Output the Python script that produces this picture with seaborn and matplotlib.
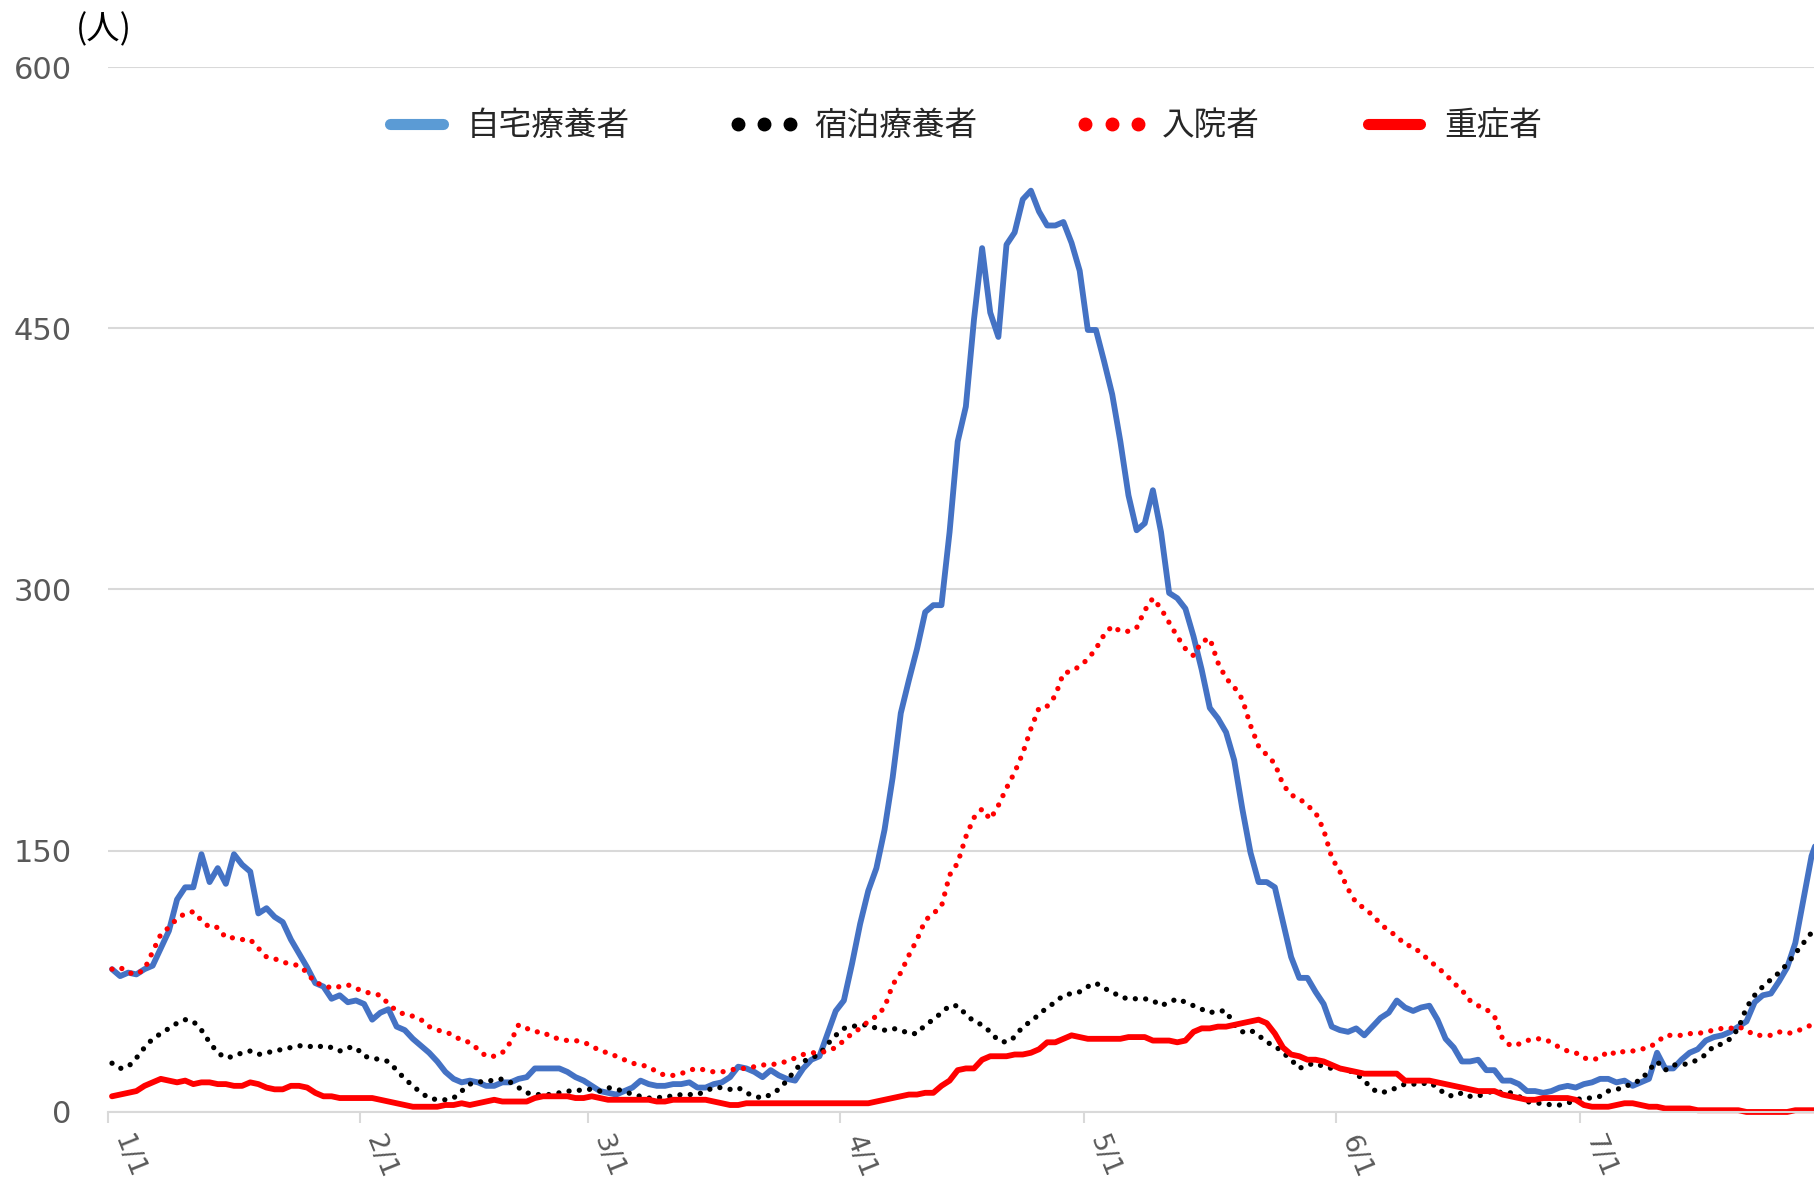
import numpy as np
import seaborn as sns
import matplotlib
matplotlib.use("Agg")
import matplotlib.pyplot as plt
from matplotlib.lines import Line2D

# daily values, 1/1 .. 7/30 (one value per day)
jitaku = [82, 78, 80, 79, 82, 84, 94, 104, 122, 129,
          129, 148, 132, 140, 131, 148, 142, 138, 114, 117,
          112, 109, 99, 91, 83, 74, 72, 65, 67, 63,
          64, 62, 53, 57, 59, 49, 47, 42, 38, 34,
          29, 23, 19, 17, 18, 17, 15, 15, 17, 17,
          19, 20, 25, 25, 25, 25, 23, 20, 18, 15,
          12, 11, 10, 12, 14, 18, 16, 15, 15, 16,
          16, 17, 14, 14, 16, 17, 20, 26, 25, 23,
          20, 24, 21, 19, 18, 25, 30, 32, 45, 58,
          64, 85, 108, 127, 140, 162, 192, 229, 248, 266,
          287, 291, 291, 333, 385, 405, 455, 496, 459, 445,
          498, 505, 524, 529, 517, 509, 509, 511, 499, 483,
          449, 449, 431, 412, 385, 354, 334, 338, 357, 333,
          298, 295, 289, 273, 254, 232, 226, 218, 202, 174,
          149, 132, 132, 129, 109, 89, 77, 77, 69, 62,
          49, 47, 46, 48, 44, 49, 54, 57, 64, 60,
          58, 60, 61, 53, 42, 37, 29, 29, 30, 24,
          24, 18, 18, 16, 12, 12, 11, 12, 14, 15,
          14, 16, 17, 19, 19, 17, 18, 15, 17, 19,
          34, 25, 25, 30, 34, 36, 41, 43, 44, 46,
          49, 52, 63, 67, 68, 75, 83, 97, 122, 147,
          160]

shukuhaku = [28, 25, 26, 31, 37, 42, 45, 48, 51, 53,
             52, 47, 40, 34, 31, 32, 34, 35, 33, 34,
             35, 36, 37, 38, 38, 37, 38, 37, 35, 37,
             37, 32, 31, 30, 29, 24, 19, 15, 11, 8,
             7, 7, 8, 12, 16, 17, 18, 18, 19, 17,
             14, 11, 10, 10, 10, 11, 12, 12, 13, 13,
             12, 14, 13, 12, 10, 9, 8, 8, 9, 9,
             10, 10, 10, 12, 14, 14, 13, 14, 11, 9,
             8, 10, 13, 18, 24, 29, 31, 33, 39, 44,
             48, 49, 50, 50, 48, 47, 48, 47, 45, 45,
             50, 53, 57, 61, 61, 56, 52, 50, 46, 41,
             40, 43, 49, 52, 56, 60, 63, 67, 68, 69,
             72, 74, 71, 69, 66, 65, 65, 65, 64, 61,
             63, 65, 63, 61, 59, 57, 58, 58, 50, 46,
             47, 44, 40, 38, 34, 30, 25, 27, 28, 26,
             25, 25, 24, 22, 18, 13, 11, 12, 14, 16,
             16, 16, 17, 14, 10, 9, 11, 9, 9, 11,
             12, 11, 11, 9, 6, 5, 5, 4, 4, 5,
             7, 8, 8, 9, 12, 13, 14, 17, 18, 24,
             29, 24, 27, 27, 28, 30, 33, 38, 39, 42,
             48, 60, 67, 72, 76, 80, 85, 91, 97, 103,
             108]

nyuin = [82, 83, 80, 79, 82, 92, 102, 106, 111, 114,
         115, 110, 106, 106, 100, 100, 99, 99, 94, 89,
         88, 86, 85, 84, 80, 74, 73, 71, 72, 73,
         71, 69, 68, 67, 62, 58, 56, 55, 53, 49,
         47, 46, 44, 41, 40, 36, 32, 32, 34, 40,
         50, 48, 46, 46, 43, 42, 41, 41, 40, 38,
         35, 34, 32, 30, 28, 27, 26, 23, 21, 21,
         22, 24, 25, 24, 23, 23, 24, 25, 25, 26,
         27, 27, 28, 29, 31, 33, 34, 34, 35, 37,
         41, 45, 48, 52, 55, 60, 73, 80, 90, 99,
         110, 114, 118, 136, 143, 158, 169, 174, 168, 176,
         186, 195, 206, 220, 232, 233, 239, 252, 253, 256,
         260, 266, 274, 279, 276, 276, 278, 288, 295, 289,
         281, 273, 266, 262, 270, 272, 258, 249, 244, 237,
         222, 210, 205, 200, 188, 182, 180, 176, 172, 162,
         146, 138, 128, 120, 117, 113, 108, 104, 101, 96,
         95, 91, 87, 83, 79, 74, 70, 64, 61, 59,
         55, 42, 38, 39, 41, 42, 42, 40, 37, 35,
         34, 31, 30, 31, 35, 33, 35, 35, 36, 37,
         40, 44, 44, 44, 45, 45, 46, 47, 48, 48,
         49, 47, 44, 44, 44, 46, 45, 46, 48, 50,
         51]

jusho = [9, 10, 11, 12, 15, 17, 19, 18, 17, 18,
         16, 17, 17, 16, 16, 15, 15, 17, 16, 14,
         13, 13, 15, 15, 14, 11, 9, 9, 8, 8,
         8, 8, 8, 7, 6, 5, 4, 3, 3, 3,
         3, 4, 4, 5, 4, 5, 6, 7, 6, 6,
         6, 6, 8, 9, 9, 9, 9, 8, 8, 9,
         8, 7, 7, 7, 7, 7, 7, 6, 6, 7,
         7, 7, 7, 7, 6, 5, 4, 4, 5, 5,
         5, 5, 5, 5, 5, 5, 5, 5, 5, 5,
         5, 5, 5, 5, 6, 7, 8, 9, 10, 10,
         11, 11, 15, 18, 24, 25, 25, 30, 32, 32,
         32, 33, 33, 34, 36, 40, 40, 42, 44, 43,
         42, 42, 42, 42, 42, 43, 43, 43, 41, 41,
         41, 40, 41, 46, 48, 48, 49, 49, 50, 51,
         52, 53, 51, 45, 37, 33, 32, 30, 30, 29,
         27, 25, 24, 23, 22, 22, 22, 22, 22, 18,
         18, 18, 18, 17, 16, 15, 14, 13, 12, 12,
         12, 10, 9, 8, 7, 7, 8, 8, 8, 8,
         7, 4, 3, 3, 3, 4, 5, 5, 4, 3,
         3, 2, 2, 2, 2, 1, 1, 1, 1, 1,
         1, 0, 0, 0, 0, 0, 0, 1, 1, 1,
         1]

series_names = ["自宅療養者", "宿泊療養者", "入院者", "重症者"]
month_labels = ["1/1", "2/1", "3/1", "4/1", "5/1", "6/1", "7/1"]
month_start = [0, 31, 59, 90, 120, 151, 181]
y_ticks = [0, 150, 300, 450, 600]

sns.set_style("white")
plt.rcParams['font.family'] = ['Noto Sans CJK JP', 'DejaVu Sans']

days = np.arange(len(jitaku))

fig = plt.figure(figsize=(18.14, 11.88), dpi=100)
ax = fig.add_axes([0.0595, 0.064, 0.9405, 0.8796])

dot = (0, (0.01, 1.95))
sns.lineplot(x=days, y=jitaku, ax=ax, color="#4472C4", linewidth=4.2, clip_on=False)
sns.lineplot(x=days, y=shukuhaku, ax=ax, color="black", linewidth=3.8,
             linestyle=dot, dash_capstyle="round", clip_on=False)
sns.lineplot(x=days, y=nyuin, ax=ax, color="#FF0000", linewidth=3.8,
             linestyle=dot, dash_capstyle="round", clip_on=False)
sns.lineplot(x=days, y=jusho, ax=ax, color="#FF0000", linewidth=4.2, clip_on=False)

ax.set_xlim(-0.5, 209.3)
ax.set_ylim(0, 600)

ax.set_yticks(y_ticks)
ax.set_yticklabels([str(v) for v in y_ticks], family="DejaVu Sans")
ax.tick_params(axis="y", length=0, pad=26, labelsize=22, labelcolor="#595959")
ax.yaxis.grid(True, color="#D9D9D9", linewidth=1.5)
ax.set_axisbelow(True)

ax.set_xticks([m - 0.5 for m in month_start])
ax.set_xticklabels(month_labels, rotation=-68, ha="left", va="top", family="DejaVu Sans")
ax.tick_params(axis="x", direction="out", length=8, width=1.5, color="#D9D9D9",
               pad=6, labelsize=19.5, labelcolor="#595959", bottom=True)

for s in ["top", "right", "left"]:
    ax.spines[s].set_visible(False)
ax.spines["bottom"].set_color("#D9D9D9")
ax.spines["bottom"].set_linewidth(1.5)
ax.set_xlabel("")
ax.set_ylabel("")

fig.text(0.057, 0.975, "(人)", ha="center", va="center", fontsize=24, color="black")

handles = [
    Line2D([], [], color="#5B9BD5", linewidth=8, solid_capstyle="round"),
    Line2D([], [], color="black", linestyle="none", marker="o", markersize=9),
    Line2D([], [], color="#FF0000", linestyle="none", marker="o", markersize=9),
    Line2D([], [], color="#FF0000", linewidth=8, solid_capstyle="round"),
]
fig.legend(handles, series_names, loc="center", bbox_to_anchor=(0.530, 0.894),
           ncol=4, frameon=False, fontsize=23.5, numpoints=3,
           handlelength=2.2, handletextpad=0.45, columnspacing=3.0)

fig.savefig("out.png", dpi=100)
